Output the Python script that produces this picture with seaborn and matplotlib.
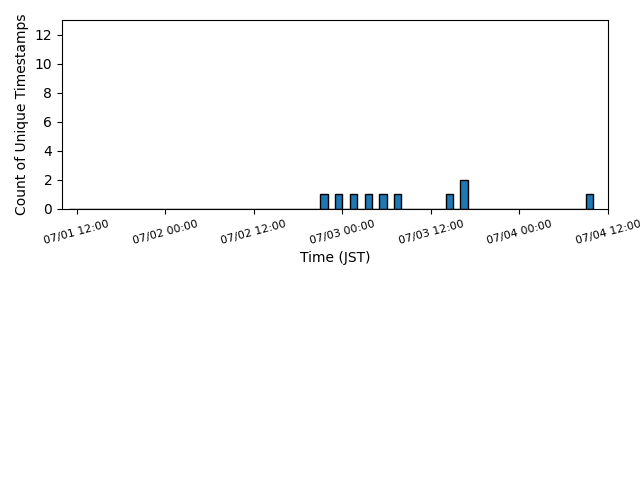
import pandas as pd
import matplotlib
matplotlib.use("Agg")
import matplotlib.pyplot as plt
import matplotlib.dates as mdates
import seaborn as sns

# horas (JST) con timestamps unicos y su conteo
horas = [
    "2025-07-02 21:00", "2025-07-02 23:00", "2025-07-03 01:00",
    "2025-07-03 03:00", "2025-07-03 05:00", "2025-07-03 07:00",
    "2025-07-03 14:00", "2025-07-03 16:00", "2025-07-04 09:00",
]
conteos = [1, 1, 1, 1, 1, 1, 1, 2, 1]
y_ticks = [0, 2, 4, 6, 8, 10, 12]

inicio_bins = "2025-07-01 11:00"
fin_bins = "2025-07-04 10:00"
x_min = "2025-07-01 10:00"
x_max = "2025-07-04 12:00"

df = pd.DataFrame({"hora": pd.to_datetime(horas), "conteo": conteos})

fig, ax = plt.subplots(figsize=(6.4, 4.8), dpi=100)
fig.subplots_adjust(left=62 / 640, right=608 / 640, top=1 - 20 / 480, bottom=1 - 209 / 480)

rango = (mdates.date2num(pd.Timestamp(inicio_bins)), mdates.date2num(pd.Timestamp(fin_bins)))
sns.histplot(data=df, x="hora", weights="conteo", binwidth=1 / 24, binrange=rango,
             color="#1f77b4", edgecolor="black", linewidth=1, alpha=1, ax=ax)

ax.set_xlim(pd.Timestamp(x_min), pd.Timestamp(x_max))
ax.set_ylim(0, 13)
ax.set_yticks(y_ticks)
ax.xaxis.set_major_locator(mdates.HourLocator(byhour=[0, 12]))
ax.xaxis.set_major_formatter(mdates.DateFormatter("%m/%d %H:%M"))
plt.setp(ax.get_xticklabels(), rotation=15, fontsize=8)
ax.set_xlabel("Time (JST)")
ax.set_ylabel("Count of Unique Timestamps")

fig.savefig("out.png", dpi=100)
